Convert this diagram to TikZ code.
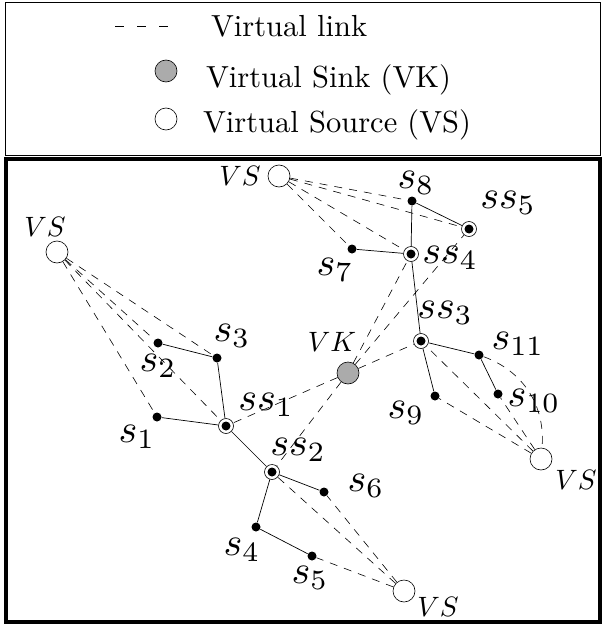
\documentclass[tikz,border=0pt]{standalone}
\usetikzlibrary{positioning}

\tikzset{
  sensor/.style={circle, fill, inner sep=0pt, minimum size=9pt},
  sink/.style={circle, draw, line width=0.6pt, inner sep=0pt, minimum size=15pt,
    path picture={\fill (path picture bounding box.center) circle (4.5pt);}},
  vsrc/.style={circle, draw, line width=0.6pt, fill=white, inner sep=0pt, minimum size=22pt},
  vsink/.style={circle, draw, line width=0.6pt, fill=black!33, inner sep=0pt, minimum size=22pt},
  vlink/.style={line width=0.6pt, dash pattern=on 8pt off 7pt},
  lbl/.style={inner sep=0pt, scale=4, transform shape},
  vlbl/.style={inner sep=0pt, scale=2.8, transform shape},
  legtxt/.style={inner sep=0pt, anchor=base west, scale=3.05, transform shape}
}

\begin{document}
\begin{tikzpicture}[x=1pt, y=1pt, line width=0.7pt]
  \useasboundingbox (0,0) rectangle (603,-626);

  \draw[line width=0.6pt] (5,-2) rectangle (600,-155);
  \draw[line width=4.5pt] (6,-159) rectangle (600,-622);

  \draw[vlink, dash pattern=on 9pt off 13pt] (115,-26) -- (168,-26);
  \node[legtxt] at (210,-37) {Virtual link};
  \node[vsink] (legvk) at (166,-71) {};
  \node[legtxt] at (205,-87) {Virtual Sink (VK)};
  \node[vsrc] (legvs) at (166,-119) {};
  \node[legtxt] at (202,-132) {Virtual Source (VS)};

  \node[vsrc] (vst) at (279,-176) {};
  \node[vsrc] (vsl) at (57,-252) {};
  \node[vsrc] (vsr) at (541,-459) {};
  \node[vsrc] (vsb) at (404,-591) {};
  \node[vsink] (vk) at (348,-373) {};

  \node[sensor] (s1) at (157,-417) {};
  \node[sensor] (s2) at (158,-343) {};
  \node[sensor] (s3) at (217,-358) {};
  \node[sensor] (s4) at (256,-527) {};
  \node[sensor] (s5) at (312,-556) {};
  \node[sensor] (s6) at (324,-492) {};
  \node[sensor] (s7) at (352,-249) {};
  \node[sensor] (s8) at (412,-201) {};
  \node[sensor] (s9) at (435,-396) {};
  \node[sensor] (s10) at (498,-394) {};
  \node[sensor] (s11) at (479,-355) {};

  \node[sink] (ss1) at (226,-426) {};
  \node[sink] (ss2) at (272,-472) {};
  \node[sink] (ss3) at (421,-341) {};
  \node[sink] (ss4) at (411,-254) {};
  \node[sink] (ss5) at (469,-229) {};

  \foreach \t in {s8,ss5,ss4,s7} \draw[vlink] (vst) -- (\t);
  \foreach \t in {s3,s2,ss1,s1} \draw[vlink] (vsl) -- (\t);
  \foreach \t in {ss1,ss2,ss3,ss4,ss5} \draw[vlink] (vk) -- (\t);
  \foreach \t in {ss3,s9,s10} \draw[vlink] (vsr) -- (\t);
  \draw[vlink] (s11) to[out=-20, in=85] (vsr);
  \foreach \t in {ss2,s6,s5} \draw[vlink] (vsb) -- (\t);

  \draw (s8) -- (ss5) (s8) -- (ss4) (s7) -- (ss4) (ss4) -- (ss3);
  \draw (ss3) -- (s11) -- (s10) (ss3) -- (s9);
  \draw (s2) -- (s3) -- (ss1) (s1) -- (ss1) -- (ss2);
  \draw (ss2) -- (s6) (ss2) -- (s4) -- (s5);

  \node[vlbl] (vstl) at (240,-176) {$VS$};
  \node[vlbl] (vsll) at (45,-227) {$VS$};
  \node[vlbl] (vsrl) at (576,-480) {$VS$};
  \node[vlbl] (vsbl) at (438,-607) {$VS$};
  \node[vlbl] (vkl) at (332,-342) {$VK$};

  \node[lbl] at (137,-437) {$s_1$};
  \node[lbl] at (158,-366) {$s_2$};
  \node[lbl] at (232,-336) {$s_3$};
  \node[lbl] at (242,-550) {$s_4$};
  \node[lbl] at (310,-578) {$s_5$};
  \node[lbl] at (366,-486) {$s_6$};
  \node[lbl] at (335,-270) {$s_7$};
  \node[lbl] at (416,-183) {$s_8$};
  \node[lbl] at (406,-413) {$s_9$};
  \node[lbl] at (534,-401) {$s_{10}$};
  \node[lbl] at (518,-344) {$s_{11}$};
  \node[lbl] at (266,-405) {$ss_1$};
  \node[lbl] at (298,-450) {$ss_2$};
  \node[lbl] at (445,-313) {$ss_3$};
  \node[lbl] at (450,-258) {$ss_4$};
  \node[lbl] at (508,-203) {$ss_5$};
\end{tikzpicture}
\end{document}
